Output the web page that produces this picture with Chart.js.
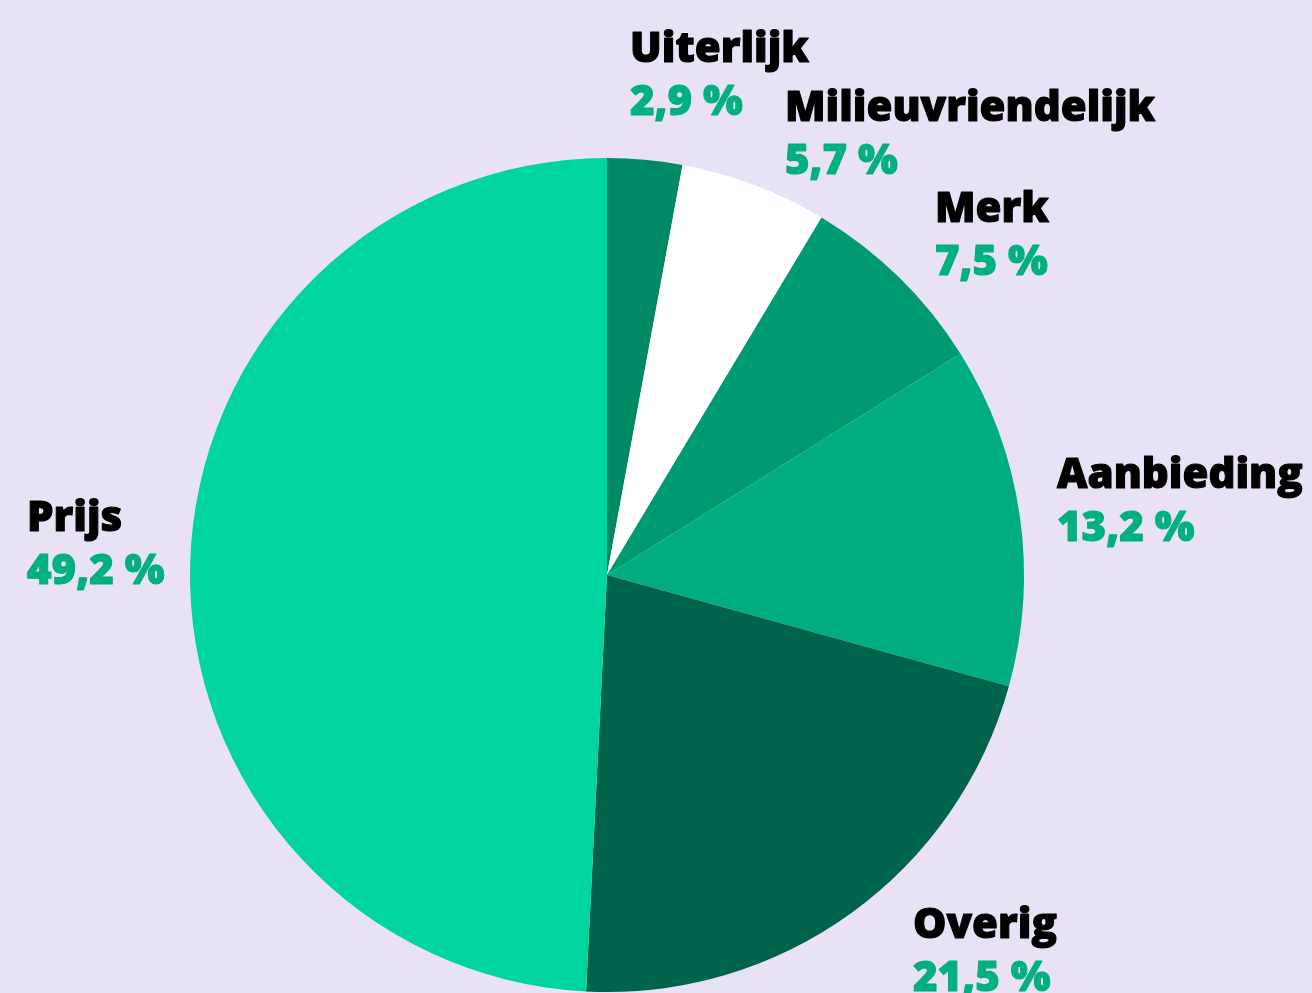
<!DOCTYPE html>
<html>
<head>
<meta charset="utf-8">
<script src="https://cdn.jsdelivr.net/npm/chart.js@4"></script>
<style>
  html, body { margin: 0; padding: 0; background: #e9e1f6; }
  canvas { display: block; }
</style>
</head>
<body>
<canvas id="myChart" width="1312" height="993"></canvas>
<script>
const labels = ['Uiterlijk', 'Milieuvriendelijk', 'Merk', 'Aanbieding', 'Overig', 'Prijs'];
const values = [2.9, 5.7, 7.5, 13.2, 21.5, 49.2];
const colors = ['#008a64', '#ffffff', '#009a71', '#00ad80', '#00644a', '#00d5a0'];

// where each label sits (left edge, baseline of the name)
const labelSpots = [
  [630, 62], [785, 121], [935, 222], [1057, 488], [913, 938], [27, 531]
];

// draw text a little heavier than plain bold
function heavyText(ctx, txt, x, y, color) {
  ctx.fillStyle = color;
  ctx.strokeStyle = color;
  ctx.lineWidth = 1.1;
  ctx.lineJoin = 'round';
  ctx.fillText(txt, x, y);
  ctx.strokeText(txt, x, y);
}

const pieLabels = {
  id: 'pieLabels',
  afterDraw(chart) {
    const ctx = chart.ctx;
    ctx.save();
    ctx.textAlign = 'left';
    ctx.textBaseline = 'alphabetic';
    ctx.font = '800 42px "Open Sans"';
    chart.data.labels.forEach((name, i) => {
      const [x, y] = labelSpots[i];
      heavyText(ctx, name, x, y, '#000000');
      heavyText(ctx, values[i].toFixed(1).replace('.', ',') + ' %', x, y + 53, '#00b07f');
    });
    ctx.restore();
  }
};

const data = {
  labels: labels,
  datasets: [{
    data: values,
    backgroundColor: colors,
    borderWidth: 0
  }]
};

const config = {
  type: 'pie',
  data: data,
  options: {
    responsive: false,
    animation: false,
    layout: { padding: { left: 190, right: 288, top: 158, bottom: 1 } },
    plugins: {
      legend: { display: false },
      tooltip: { enabled: false }
    }
  },
  plugins: [pieLabels]
};

const myChart = new Chart(document.getElementById('myChart'), config);
</script>
</body>
</html>
